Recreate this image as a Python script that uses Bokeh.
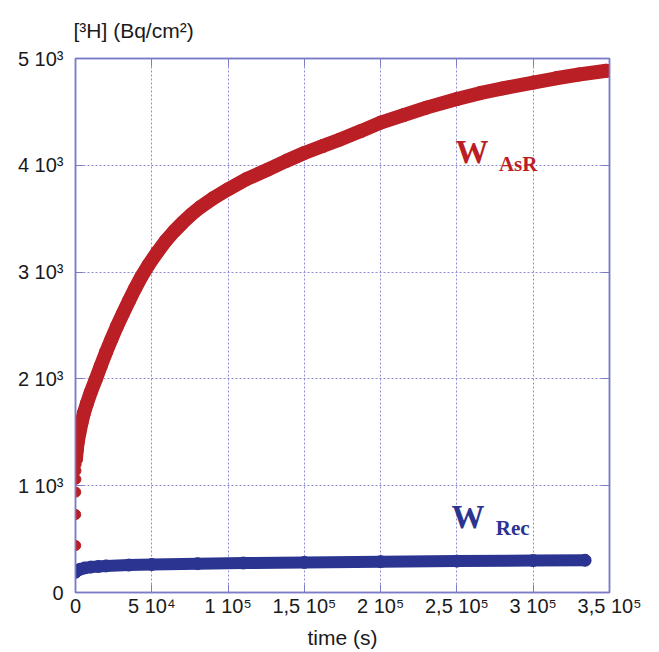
from bokeh.plotting import figure
from bokeh.models import LinearAxis, Range1d, FixedTicker, Label, Title
from bokeh.embed import file_html
from bokeh.resources import INLINE

# ---- data ----
# W_AsR : first isolated measurements at the very start
asr_start_time = [150, 150, 150, 250, 300, 400]
asr_start_vals = [440, 730, 940, 1060, 1140, 1200]
# W_AsR : main curve
asr_time = [300, 800, 1500, 2500, 3800, 5500, 7500, 10000, 13400, 16500, 20000,
            23500, 27100, 31000, 35200, 39000, 43300, 48000, 53800, 59000, 64500,
            70000, 76000, 82000, 90000, 100000, 112000, 126000, 138000, 150000,
            162000, 173000, 187000, 200000, 215000, 230000, 250000, 265000, 280000,
            300000, 315000, 330000, 348000]
asr_vals = [1250, 1330, 1410, 1490, 1580, 1680, 1770, 1875, 2000, 2120, 2250,
            2370, 2490, 2610, 2735, 2845, 2960, 3070, 3190, 3290, 3380,
            3460, 3540, 3610, 3690, 3775, 3870, 3960, 4040, 4115,
            4180, 4240, 4320, 4400, 4470, 4540, 4620, 4675, 4720,
            4775, 4815, 4850, 4885]
# W_Rec
rec_time = [0, 1000, 3000, 6000, 10000, 15000, 20000, 35000, 50000, 80000, 110000,
            150000, 200000, 250000, 300000, 334000]
rec_vals = [190, 205, 218, 230, 238, 244, 249, 257, 262, 270, 276,
            282, 289, 294, 299, 302]

x_ticks = [0, 50000, 100000, 150000, 200000, 250000, 300000, 350000]
x_tick_labels = ["0", "5 10\u2074", "1 10\u2075", "1,5 10\u2075", "2 10\u2075",
                 "2,5 10\u2075", "3 10\u2075", "3,5 10\u2075"]
y_ticks = [0, 1000, 2000, 3000, 4000, 5000]
y_tick_labels = ["0", "1 10\u00b3", "2 10\u00b3", "3 10\u00b3", "4 10\u00b3", "5 10\u00b3"]

RED = "#bb1f26"
BLUE = "#2b3591"
FRAME = "#7b7bc8"
GRID = "#8c8cd2"
FONT = "Liberation Sans"

p = figure(frame_width=534, frame_height=534,
           x_range=Range1d(0, 350000), y_range=Range1d(0, 5000),
           output_backend="svg", toolbar_location=None,
           min_border_left=75, min_border_right=42,
           min_border_top=20, min_border_bottom=40)
p.background_fill_color = "white"
p.border_fill_color = "white"
p.outline_line_color = FRAME
p.outline_line_width = 1.5

def style_axis(ax, labels=True):
    ax.axis_line_color = FRAME
    ax.axis_line_width = 1.5
    ax.major_tick_line_color = FRAME
    ax.minor_tick_line_color = FRAME
    ax.major_tick_in = 8
    ax.major_tick_out = 0
    ax.minor_tick_in = 4
    ax.minor_tick_out = 0
    ax.major_label_text_font = FONT
    ax.major_label_text_font_size = "20px"
    ax.major_label_text_color = "#1a1a1a"
    if not labels:
        ax.major_label_text_font_size = "0px"
        ax.major_label_text_alpha = 0

p.xaxis.ticker = FixedTicker(ticks=x_ticks, num_minor_ticks=5)
p.yaxis.ticker = FixedTicker(ticks=y_ticks, num_minor_ticks=5)
p.xaxis.major_label_overrides = {t: l for t, l in zip(x_ticks, x_tick_labels)}
p.yaxis.major_label_overrides = {t: l for t, l in zip(y_ticks, y_tick_labels)}
for ax in p.xaxis + p.yaxis:
    style_axis(ax)
p.xaxis.major_label_standoff = 2
p.yaxis.major_label_standoff = 12
p.xaxis.axis_label = "time (s)"
p.xaxis.axis_label_text_font = FONT
p.xaxis.axis_label_text_font_size = "21px"
p.xaxis.axis_label_text_font_style = "normal"
p.xaxis.axis_label_text_color = "#1a1a1a"
p.xaxis.axis_label_standoff = 6

top = LinearAxis(ticker=FixedTicker(ticks=x_ticks, num_minor_ticks=5))
style_axis(top, labels=False)
right = LinearAxis(ticker=FixedTicker(ticks=y_ticks, num_minor_ticks=5))
style_axis(right, labels=False)
p.add_layout(top, "above")
p.add_layout(right, "right")

ttl = Title(text="[\u00b3H] (Bq/cm\u00b2)", align="left", text_font=FONT,
            text_font_size="21px", text_font_style="normal", text_color="#1a1a1a",
            standoff=33, offset=-2)
p.add_layout(ttl, "above")

for g in (p.xgrid, p.ygrid):
    g.grid_line_color = GRID
    g.grid_line_dash = "2 2"
    g.grid_line_width = 1

# data
p.line(asr_time, asr_vals, line_color=RED, line_width=14, line_cap="round", line_join="round")
p.scatter(asr_time, asr_vals, size=13, fill_color=RED, line_color=RED)
p.scatter(asr_start_time, asr_start_vals, size=10, fill_color=RED, line_color=RED)
p.line(rec_time, rec_vals, line_color=BLUE, line_width=12, line_cap="round", line_join="round")
p.scatter(rec_time, rec_vals, size=12, fill_color=BLUE, line_color=BLUE)

SERIF = "Liberation Serif"
p.add_layout(Label(x=249000, y=3960, text="W", text_font=SERIF, text_font_size="33px",
                   text_font_style="bold", text_color=RED))
p.add_layout(Label(x=277500, y=3900, text="AsR", text_font=SERIF, text_font_size="21px",
                   text_font_style="bold", text_color=RED))
p.add_layout(Label(x=246500, y=543, text="W", text_font=SERIF, text_font_size="33px",
                   text_font_style="bold", text_color=BLUE))
p.add_layout(Label(x=275500, y=496, text="Rec", text_font=SERIF, text_font_size="21px",
                   text_font_style="bold", text_color=BLUE))

open("out.html", "w").write(file_html(p, INLINE))
